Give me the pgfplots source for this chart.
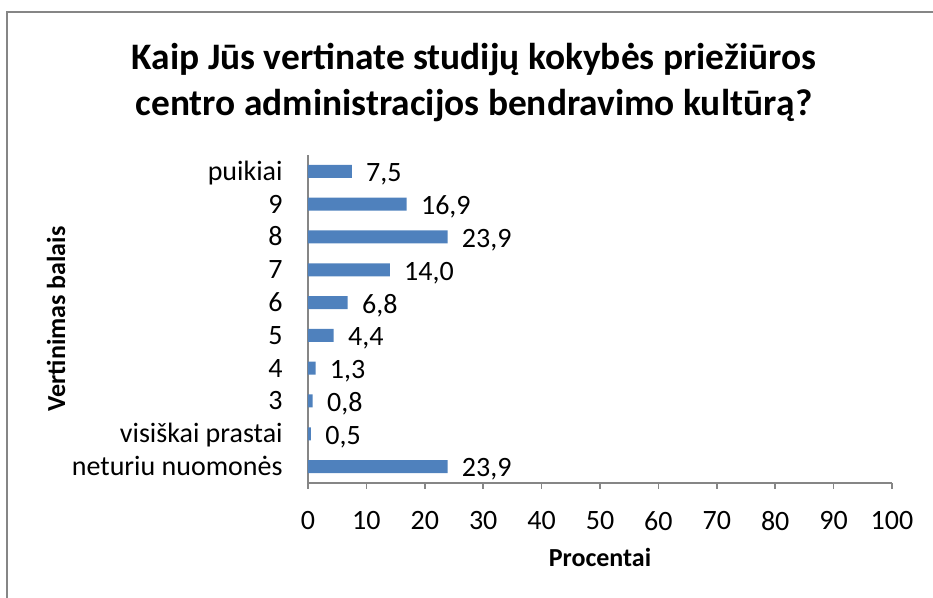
\documentclass[border=0pt]{standalone}
\usepackage{pgfplots}
\pgfplotsset{compat=1.18}
\usepackage{fontspec}
\setmainfont{Carlito}
\definecolor{barblue}{RGB}{79,129,189}
\definecolor{axisgray}{RGB}{134,134,134}

\begin{document}
\begin{tikzpicture}
% page area: 933x598 px at 0.5pt per px, origin top left
\path[use as bounding box] (0,0) rectangle (466.5pt,-299pt);
\draw[axisgray,line width=1pt] (3.5pt,-299pt) -- (3.5pt,-5.8pt) -- (466.5pt,-5.8pt);

\node[align=center,font=\fontsize{18.7}{23}\selectfont\bfseries] at (237pt,-41.3pt)
  {Kaip Jūs vertinate studijų kokybės priežiūros\\centro administracijos bendravimo kultūrą?};

\begin{axis}[
  at={(154pt,-241.5pt)},anchor=south west,
  scale only axis,width=292pt,height=164pt,
  xbar,bar width=6.5pt,
  xmin=0,xmax=100,xtick={0,10,...,100},
  ymin=-0.5,ymax=9.5,ytick={0,...,9},
  yticklabels={neturiu nuomonės,visiškai prastai,3,4,5,6,7,8,9,puikiai},
  axis x line*=bottom,axis y line*=left,
  axis line style={axisgray,line width=0.75pt},
  every tick/.style={axisgray,line width=0.75pt},
  tick align=outside,major tick length=3pt,
  ytick style={draw=none},
  /pgf/number format/assume math mode=true,
  tick label style={font=\fontsize{14}{17}\selectfont},
  xticklabel style={inner sep=0pt,anchor=north,yshift=-11pt},
  yticklabel style={inner sep=0pt,anchor=east,xshift=-9.5pt,yshift=-1.5pt,text height=1.5ex,text depth=0.25ex},
  xlabel={Procentai},ylabel={Vertinimas balais},
  label style={font=\fontsize{13}{16}\selectfont\bfseries},
  xlabel style={at={(axis description cs:0.5,-0.2256)},anchor=center},
  ylabel style={at={(axis description cs:-0.4315,0.5)},anchor=center},
  nodes near coords,
  nodes near coords style={font=\fontsize{14}{17}\selectfont,anchor=west,inner sep=0pt,xshift=7pt,yshift=-1.5pt,
    /pgf/number format/.cd,fixed,fixed zerofill,precision=1,use comma,assume math mode=true},
]
\addplot[fill=barblue,draw=none] coordinates {
  (23.9,0) (0.5,1) (0.8,2) (1.3,3) (4.4,4) (6.8,5) (14.0,6) (23.9,7) (16.9,8) (7.5,9)};
\end{axis}
\end{tikzpicture}
\end{document}
